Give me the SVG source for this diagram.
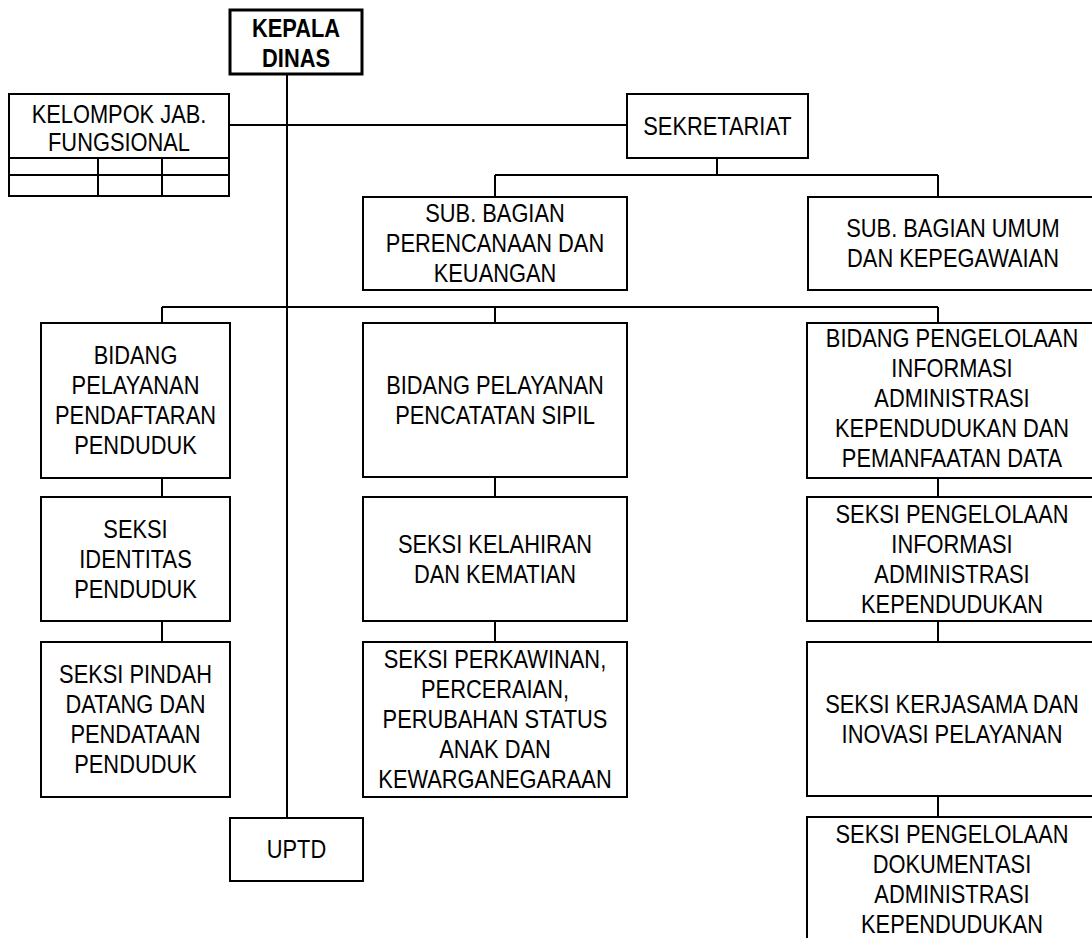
<svg xmlns="http://www.w3.org/2000/svg" width="1092" height="938" viewBox="0 0 1092 938">
  <style>
    .box { fill: #ffffff; stroke: #000000; stroke-width: 2; }
    .head { fill: #ffffff; stroke: #000000; stroke-width: 3; }
    .ln { fill: none; stroke: #000000; stroke-width: 2; }
    text { font-family: "Liberation Sans", Arial, sans-serif; font-size: 26px; fill: #000000; text-anchor: middle; }
    .b { font-weight: bold; }
  </style>
  <rect width="1092" height="938" fill="#ffffff"/>

  <!-- connectors -->
  <g id="connectors" class="ln">
    <path d="M287 74 V818"/>
    <path d="M229 125 H627"/>
    <path d="M717 158 V175 M495 175 H938 M495 175 V197 M938 175 V197"/>
    <path d="M162 307 H938 M162 307 V323 M495 307 V323 M938 307 V323"/>
    <path d="M162 478 V497 M162 621 V642"/>
    <path d="M495 477 V497 M495 621 V642"/>
    <path d="M938 478 V497 M938 621 V642 M938 796 V817"/>
  </g>

  <!-- labels use a horizontally condensed sans: each label group is centred on its box and squeezed to 84% width -->
  <g id="kepala-dinas">
    <rect class="head" x="230" y="10" width="132" height="64"/>
    <g transform="translate(296 0) scale(0.84 1)">
      <text class="b" x="0" y="37">KEPALA</text>
      <text class="b" x="0" y="67">DINAS</text>
    </g>
  </g>

  <g id="kelompok-jabatan-fungsional">
    <rect class="box" x="9" y="94" width="220" height="102"/>
    <path class="ln" d="M9 158 H229 M9 175 H229 M98 158 V196 M162 158 V196"/>
    <g transform="translate(119 0) scale(0.84 1)">
      <text x="0" y="123">KELOMPOK JAB.</text>
      <text x="0" y="151">FUNGSIONAL</text>
    </g>
  </g>

  <g id="sekretariat">
    <rect class="box" x="627" y="94" width="181" height="64"/>
    <g transform="translate(717.5 0) scale(0.84 1)">
      <text x="0" y="135">SEKRETARIAT</text>
    </g>
  </g>

  <g id="subbag-perencanaan">
    <rect class="box" x="363" y="197" width="264" height="93"/>
    <g transform="translate(495 0) scale(0.84 1)">
      <text x="0" y="222">SUB. BAGIAN</text>
      <text x="0" y="252">PERENCANAAN DAN</text>
      <text x="0" y="282">KEUANGAN</text>
    </g>
  </g>

  <g id="subbag-umum">
    <rect class="box" x="808" y="197" width="292" height="93"/>
    <g transform="translate(953 0) scale(0.84 1)">
      <text x="0" y="237">SUB. BAGIAN UMUM</text>
      <text x="0" y="267">DAN KEPEGAWAIAN</text>
    </g>
  </g>

  <g id="bidang-pendaftaran">
    <rect class="box" x="41" y="323" width="189" height="155"/>
    <g transform="translate(135.5 0) scale(0.84 1)">
      <text x="0" y="364">BIDANG</text>
      <text x="0" y="394">PELAYANAN</text>
      <text x="0" y="424">PENDAFTARAN</text>
      <text x="0" y="454">PENDUDUK</text>
    </g>
  </g>

  <g id="seksi-identitas">
    <rect class="box" x="41" y="497" width="189" height="124"/>
    <g transform="translate(135.5 0) scale(0.84 1)">
      <text x="0" y="538">SEKSI</text>
      <text x="0" y="568">IDENTITAS</text>
      <text x="0" y="598">PENDUDUK</text>
    </g>
  </g>

  <g id="seksi-pindah-datang">
    <rect class="box" x="41" y="642" width="189" height="155"/>
    <g transform="translate(135.5 0) scale(0.84 1)">
      <text x="0" y="683">SEKSI PINDAH</text>
      <text x="0" y="713">DATANG DAN</text>
      <text x="0" y="743">PENDATAAN</text>
      <text x="0" y="773">PENDUDUK</text>
    </g>
  </g>

  <g id="bidang-pencatatan-sipil">
    <rect class="box" x="363" y="323" width="264" height="154"/>
    <g transform="translate(495 0) scale(0.84 1)">
      <text x="0" y="394">BIDANG PELAYANAN</text>
      <text x="0" y="424">PENCATATAN SIPIL</text>
    </g>
  </g>

  <g id="seksi-kelahiran">
    <rect class="box" x="363" y="497" width="264" height="124"/>
    <g transform="translate(495 0) scale(0.84 1)">
      <text x="0" y="553">SEKSI KELAHIRAN</text>
      <text x="0" y="583">DAN KEMATIAN</text>
    </g>
  </g>

  <g id="seksi-perkawinan">
    <rect class="box" x="363" y="642" width="264" height="155"/>
    <g transform="translate(495 0) scale(0.84 1)">
      <text x="0" y="668">SEKSI PERKAWINAN,</text>
      <text x="0" y="698">PERCERAIAN,</text>
      <text x="0" y="728">PERUBAHAN STATUS</text>
      <text x="0" y="758">ANAK DAN</text>
      <text x="0" y="788">KEWARGANEGARAAN</text>
    </g>
  </g>

  <g id="bidang-pengelolaan-informasi">
    <rect class="box" x="807" y="323" width="292" height="155"/>
    <g transform="translate(952 0) scale(0.84 1)">
      <text x="0" y="347">BIDANG PENGELOLAAN</text>
      <text x="0" y="377">INFORMASI</text>
      <text x="0" y="407">ADMINISTRASI</text>
      <text x="0" y="437">KEPENDUDUKAN DAN</text>
      <text x="0" y="467">PEMANFAATAN DATA</text>
    </g>
  </g>

  <g id="seksi-pengelolaan-informasi">
    <rect class="box" x="807" y="497" width="292" height="124"/>
    <g transform="translate(952 0) scale(0.84 1)">
      <text x="0" y="523">SEKSI PENGELOLAAN</text>
      <text x="0" y="553">INFORMASI</text>
      <text x="0" y="583">ADMINISTRASI</text>
      <text x="0" y="613">KEPENDUDUKAN</text>
    </g>
  </g>

  <g id="seksi-kerjasama">
    <rect class="box" x="807" y="642" width="292" height="154"/>
    <g transform="translate(952 0) scale(0.84 1)">
      <text x="0" y="713">SEKSI KERJASAMA DAN</text>
      <text x="0" y="743">INOVASI PELAYANAN</text>
    </g>
  </g>

  <g id="seksi-dokumentasi">
    <rect class="box" x="807" y="817" width="292" height="140"/>
    <g transform="translate(952 0) scale(0.84 1)">
      <text x="0" y="843">SEKSI PENGELOLAAN</text>
      <text x="0" y="873">DOKUMENTASI</text>
      <text x="0" y="903">ADMINISTRASI</text>
      <text x="0" y="933">KEPENDUDUKAN</text>
    </g>
  </g>

  <g id="uptd">
    <rect class="box" x="230" y="818" width="133" height="63"/>
    <g transform="translate(296.5 0) scale(0.84 1)">
      <text x="0" y="858">UPTD</text>
    </g>
  </g>
</svg>
